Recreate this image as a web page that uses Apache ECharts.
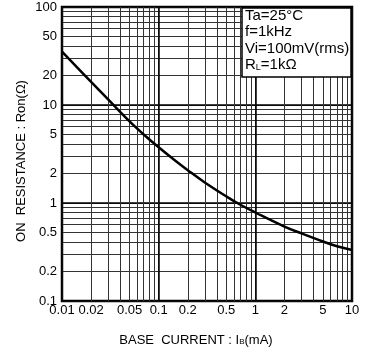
<!DOCTYPE html>
<html>
<head>
<meta charset="utf-8">
<script src="https://cdn.jsdelivr.net/npm/echarts@6/dist/echarts.min.js"></script>
<style>
  html, body { margin: 0; padding: 0; background: #fff; }
  #chart { width: 369px; height: 352px; }
</style>
</head>
<body>
<div id="chart"></div>
<script>
// Curve (log-log)
const baseCurrent = [0.01, 0.02, 0.03, 0.05, 0.07, 0.1, 0.15, 0.2, 0.3, 0.5, 0.7, 1, 2, 3, 5, 7, 10];
const onResistance = [35, 17.2, 11.4, 6.8, 5.0, 3.7, 2.68, 2.16, 1.62, 1.17, 0.96, 0.8, 0.575, 0.49, 0.405, 0.362, 0.332];

const xTickLabels = [0.01, 0.02, 0.05, 0.1, 0.2, 0.5, 1, 2, 5, 10];
const yTickLabels = [0.1, 0.2, 0.5, 1, 2, 5, 10, 20, 50, 100];
const xDecades = [0.01, 0.1, 1, 10];
const yDecades = [0.1, 1, 10, 100];

const conditions = ["Ta=25°C", "f=1kHz", "Vi=100mV(rms)", "R{sub|L}=1kΩ"];

const FONT = "Liberation Sans, Arial, sans-serif";

// 1..9 lines inside each decade
function minorLines(decades) {
  const out = [];
  for (let i = 0; i < decades.length - 1; i++) {
    for (let m = 1; m < 10; m++) out.push(+(decades[i] * m).toPrecision(3));
  }
  out.push(decades[decades.length - 1]);
  return out;
}

function fmt(v) {
  return String(+v.toPrecision(3));
}

const chart = echarts.init(document.getElementById("chart"), null, { renderer: "canvas" });

const hidden = { show: false };

chart.setOption({
  animation: false,
  grid: {
    left: 62, right: 17, top: 7, bottom: 51,
    show: true,
    borderColor: "#000",
    borderWidth: 2.5,
    backgroundColor: "transparent",
  },
  xAxis: [
    {
      type: "log", logBase: 10, min: 0.01, max: 10,
      axisLine: hidden,
      axisTick: { show: false, customValues: minorLines(xDecades) },
      axisLabel: {
        customValues: xTickLabels, formatter: fmt,
        color: "#000", fontSize: 13, fontFamily: FONT, margin: 3,
      },
      splitLine: { show: true, lineStyle: { color: "#333", width: 1 } },
      minorSplitLine: hidden,
    },
    {
      type: "log", logBase: 10, min: 0.01, max: 10, gridIndex: 0,
      axisLine: hidden,
      axisTick: { show: false, customValues: xDecades },
      axisLabel: hidden,
      splitLine: { show: true, lineStyle: { color: "#000", width: 1.5 } },
    },
  ],
  yAxis: [
    {
      type: "log", logBase: 10, min: 0.1, max: 100,
      axisLine: hidden,
      axisTick: { show: false, customValues: minorLines(yDecades) },
      axisLabel: {
        customValues: yTickLabels, formatter: fmt,
        color: "#000", fontSize: 13, fontFamily: FONT, margin: 5,
        padding: [0, 0, 6, 0],
      },
      splitLine: { show: true, lineStyle: { color: "#333", width: 1 } },
    },
    {
      type: "log", logBase: 10, min: 0.1, max: 100, gridIndex: 0,
      axisLine: hidden,
      axisTick: { show: false, customValues: yDecades },
      axisLabel: hidden,
      splitLine: { show: true, lineStyle: { color: "#000", width: 1.5 } },
    },
  ],
  series: [
    {
      type: "line",
      xAxisIndex: 0,
      yAxisIndex: 0,
      data: baseCurrent.map((x, i) => [x, onResistance[i]]),
      smooth: 0.4,
      showSymbol: false,
      lineStyle: { color: "#000", width: 2.5 },
      z: 5,
    },
  ],
  graphic: [
    {
      type: "rect", z: 10,
      shape: { x: 242, y: 8, width: 109, height: 69 },
      style: { fill: "#fff", stroke: "#000", lineWidth: 1.5 },
    },
    ...conditions.map((txt, i) => ({
      type: "text", z: 11,
      left: 245, top: 8 + i * 16.5,
      style: {
        text: txt, fill: "#000", font: "15px " + FONT,
        rich: { sub: { fontSize: 9, fontFamily: FONT, fill: "#000", padding: [5, 0, 0, 0] } },
      },
    })),
    {
      type: "text", z: 11,
      x: 196, y: 340,
      style: {
        text: "BASE  CURRENT : I{sub|B}(mA)", fill: "#000", font: "13px " + FONT,
        align: "center", verticalAlign: "middle",
        rich: { sub: { fontSize: 8, fontFamily: FONT, fill: "#000", padding: [4, 0, 0, 0] } },
      },
    },
    {
      type: "text", z: 11,
      x: 21, y: 161, rotation: Math.PI / 2,
      style: {
        text: "ON  RESISTANCE : Ron(Ω)", fill: "#000", font: "13px " + FONT,
        align: "center", verticalAlign: "middle",
      },
    },
  ],
});
</script>
</body>
</html>
